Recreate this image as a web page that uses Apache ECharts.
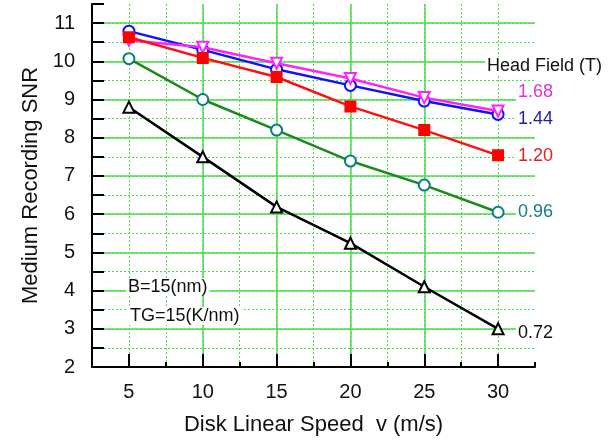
<!DOCTYPE html>
<html><head><meta charset="utf-8">
<script src="https://cdn.jsdelivr.net/npm/echarts@6/dist/echarts.min.js"></script>
<style>html,body{margin:0;padding:0;background:#fff}#c{width:613px;height:445px}</style>
</head><body><div id="c"></div>
<script>
const speeds = [5, 10, 15, 20, 25, 30];
const snr168 = [10.55, 10.37, 9.95, 9.55, 9.05, 8.70];
const snr144 = [10.79, 10.30, 9.79, 9.37, 8.96, 8.61];
const snr120 = [10.63, 10.09, 9.59, 8.82, 8.20, 7.54];
const snr096 = [10.07, 9.00, 8.20, 7.39, 6.76, 6.05];
const snr072 = [8.80, 7.50, 6.19, 5.24, 4.10, 3.00];
const xTickLabels = [5, 10, 15, 20, 25, 30];
const yTickLabels = [2, 3, 4, 5, 6, 7, 8, 9, 10, 11];

const FONT = "'Liberation Sans Narrow', 'Liberation Sans', Arial, sans-serif";
const GRID = '#4ddd4d';

function pairs(ys) { return speeds.map((x, i) => [x, ys[i]]); }

function mkSeries(name, ys, color, lineColor, symbol, fill, rotate, size, dy, labelColor, z) {
  return {
    name: name, type: 'line', data: pairs(ys), xAxisIndex: 0, yAxisIndex: 0,
    symbol: symbol, symbolSize: size, symbolRotate: rotate, showAllSymbol: true,
    z: z,
    lineStyle: { color: lineColor, width: 2.5 },
    itemStyle: { color: fill, borderColor: color, borderWidth: 2 },
    endLabel: {
      show: true, formatter: name, color: labelColor, fontFamily: FONT, fontSize: 18,
      distance: 0, offset: [18, dy], backgroundColor: '#fff', padding: [0, 2]
    },
    emphasis: { disabled: true }, animation: false
  };
}

const chart = echarts.init(document.getElementById('c'), null, { renderer: 'canvas' });
chart.setOption({
  animation: false,
  backgroundColor: '#fff',
  grid: { left: 92, right: 78, top: 4, bottom: 78, containLabel: false },
  xAxis: [
    {
      type: 'value', min: 2.5, max: 32.5, interval: 2.5,
      axisLine: { show: true, lineStyle: { color: '#000', width: 2 } },
      axisTick: { show: true, inside: true, length: 5, lineStyle: { color: '#000', width: 2 } },
      axisLabel: { show: false },
      splitLine: { show: true, showMinLine: false, showMaxLine: false, lineStyle: { color: GRID, width: 1, type: [2, 2] } },
      name: 'Disk Linear Speed  v (m/s)', nameLocation: 'middle', nameGap: 47,
      nameTextStyle: { fontFamily: FONT, fontSize: 22, color: '#111' }
    },
    {
      type: 'value', min: 2.5, max: 32.5, position: 'bottom',
      axisLine: { show: false },
      axisTick: { show: true, inside: true, length: 13, customValues: xTickLabels, lineStyle: { color: '#000', width: 2 } },
      axisLabel: { show: true, customValues: xTickLabels, margin: 15, fontFamily: FONT, fontSize: 20, color: '#111' },
      splitLine: { show: true, showMinLine: false, showMaxLine: false, lineStyle: { color: GRID, width: 1.5 } }
    }
  ],
  yAxis: [
    {
      type: 'value', min: 2, max: 11.5, interval: 0.5,
      axisLine: { show: true, lineStyle: { color: '#000', width: 2 } },
      axisTick: { show: true, inside: true, length: 12, lineStyle: { color: '#000', width: 2 } },
      axisLabel: { show: true, customValues: yTickLabels, margin: 17, fontFamily: FONT, fontSize: 20, color: '#111' },
      splitLine: { show: true, showMinLine: false, showMaxLine: false, lineStyle: { color: GRID, width: 1, type: [2, 2] } },
      name: 'Medium Recording SNR', nameLocation: 'middle', nameGap: 48,
      nameTextStyle: { fontFamily: FONT, fontSize: 22, color: '#111' }
    },
    {
      type: 'value', min: 2, max: 11.5, interval: 1, position: 'left',
      axisLine: { show: false }, axisTick: { show: false }, axisLabel: { show: false },
      splitLine: { show: true, showMinLine: false, showMaxLine: false, lineStyle: { color: GRID, width: 1.5 } }
    }
  ],
  series: [
    mkSeries('0.72', snr072, '#000000', '#000000', 'triangle', '#fff', 0, 11, 4, '#111', 3),
    mkSeries('0.96', snr096, '#0a7f7f', '#1a8a1a', 'circle', '#fff', 0, 11, 0, '#138080', 4),
    mkSeries('1.44', snr144, '#1010ff', '#1010ff', 'circle', '#fff', 0, 11, 5, '#2020b0', 5),
    mkSeries('1.68', snr168, '#ff22ff', '#ff22ff', 'triangle', '#fff', 180, 11, -19, '#e030e0', 6),
    mkSeries('1.20', snr120, '#ff0000', '#ff1010', 'rect', '#ff0000', 0, 10, 1, '#e02020', 7)
  ],
  graphic: [
    { type: 'text', left: 485, top: 57, z: 100,
      style: { text: 'Head Field (T)', font: "18px " + FONT, fill: '#111', backgroundColor: '#fff', padding: [0, 2] } },
    { type: 'text', left: 126, top: 278, z: 100,
      style: { text: 'B=15(nm)', font: "18px " + FONT, fill: '#111', backgroundColor: '#fff', padding: [0, 2] } },
    { type: 'text', left: 128, top: 307, z: 100,
      style: { text: 'TG=15(K/nm)', font: "18px " + FONT, fill: '#111', backgroundColor: '#fff', padding: [0, 2] } }
  ]
});
</script></body></html>
